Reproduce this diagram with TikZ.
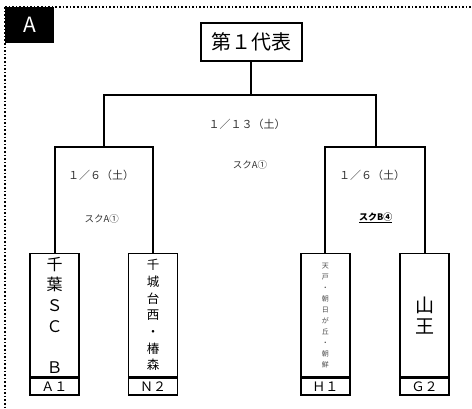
\documentclass[tikz,border=0pt]{standalone}
\usepackage{fontspec}
\setmainfont{Noto Sans CJK JP}
\newfontfamily\jp{Noto Sans CJK JP}
\begin{document}
\begin{tikzpicture}[x=1pt,y=-1pt,
  line/.style={line width=2pt,line cap=rect},
  teambox/.style={draw,line width=1.6pt,minimum width=49pt,minimum height=123.3pt,inner sep=0pt,align=center,anchor=north},
  codebox/.style={draw,line width=1.6pt,minimum width=49pt,minimum height=16.7pt,inner sep=0pt,anchor=north,font=\fontsize{13}{13}\selectfont},
  datetxt/.style={font=\fontsize{11}{11}\selectfont,text=black!80,inner sep=0pt},
  courttxt/.style={font=\fontsize{9.5}{9.5}\selectfont,text=black!80,inner sep=0pt}]
\useasboundingbox (0,0) rectangle (472,409);
% frame
\draw[line width=1.6pt,dotted] (5,7) -- (472,7);
\draw[line width=1.6pt,dotted] (5,7) -- (5,409);
\node[fill=black,text=white,minimum width=49pt,minimum height=36pt,inner sep=0pt,anchor=north west,font=\fontsize{21}{21}\selectfont] (lab) at (5,7) {A};
% top
\node[draw,line width=2pt,minimum width=101pt,minimum height=38pt,inner sep=0pt,font=\fontsize{20}{20}\selectfont] (top) at (251.2,41.7) {第１代表};
\coordinate (mid) at (251.2,95.3);
\coordinate (jL) at (104.3,147.3);
\coordinate (jR) at (375.7,147.3);
% teams
\node[teambox,font=\fontsize{16}{20.6}\selectfont] (t1) at (54.5,252.7) {千\\葉\\Ｓ\\Ｃ\\\mbox{}\\Ｂ};
\node[codebox] (c1) at (t1.south) {Ａ１};
\node[teambox,font=\fontsize{12.5}{16.7}\selectfont] (t2) at (153,252.7) {千\\城\\台\\西\\・\\椿\\森};
\node[codebox] (c2) at (t2.south) {Ｎ２};
\node[teambox,font=\fontsize{7}{11}\selectfont,text=black!70] (t3) at (325.4,252.7) {天\\戸\\・\\朝\\日\\が\\丘\\・\\朝\\鮮};
\node[codebox] (c3) at (t3.south) {Ｈ１};
\node[teambox,font=\fontsize{19}{21}\selectfont] (t4) at (424.7,252.7) {山\\王};
\node[codebox] (c4) at (t4.south) {Ｇ２};
% brackets
\draw[line] (top.south) -- (mid);
\draw[line] (jL) -- (jL |- mid) -- (jR |- mid) -- (jR);
\draw[line] (t1.north) |- (jL) -| (t2.north);
\draw[line] (t3.north) |- (jR) -| (t4.north);
% labels
\node[datetxt] (d0) at (247,124) {１／１３（土）};
\node[courttxt] (k0) at (250,165) {スクA①};
\node[datetxt] (d1) at (101,175) {１／６（土）};
\node[courttxt] (k1) at (101.7,219) {スクA①};
\node[datetxt] (d2) at (372,175) {１／６（土）};
\node[courttxt,text=black,font=\fontsize{9}{9}\selectfont\bfseries] (k2) at (375.8,218) {\underline{スクB④}};
\end{tikzpicture}
\end{document}
